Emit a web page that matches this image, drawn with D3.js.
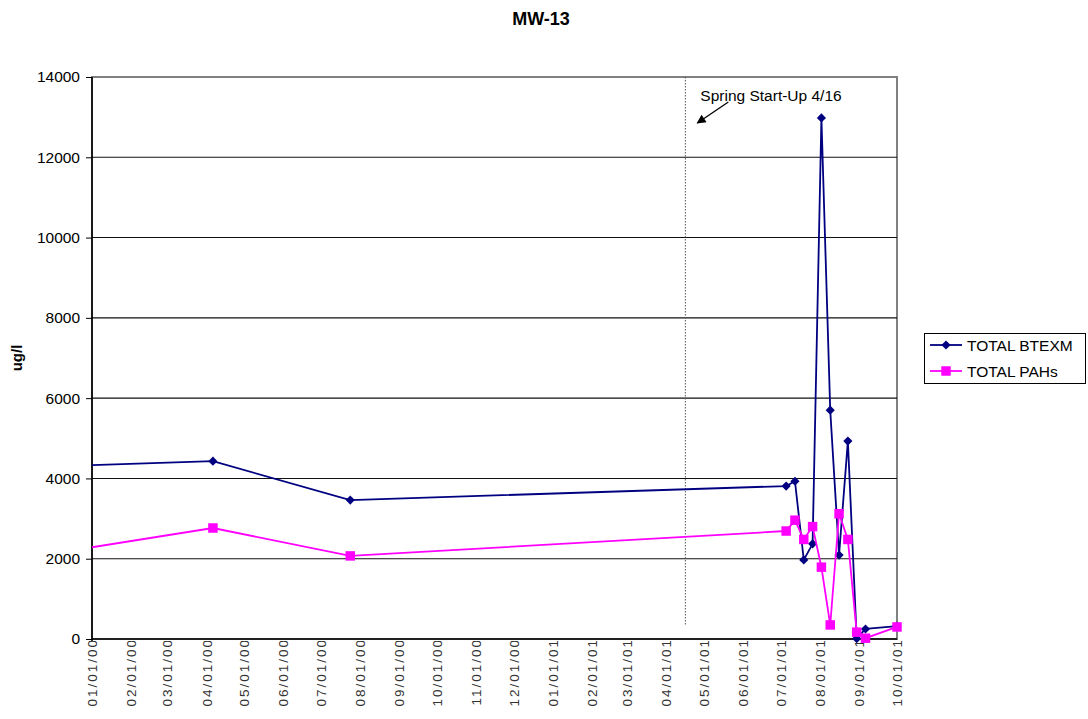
<!DOCTYPE html>
<html>
<head>
<meta charset="utf-8">
<script src="https://cdn.jsdelivr.net/npm/d3@7/dist/d3.min.js"></script>
<style>
  html, body { margin: 0; padding: 0; background: #fff; }
  svg { display: block; }
  text { font-family: "Liberation Sans", Arial, sans-serif; }
</style>
</head>
<body>
<svg id="chart" width="1088" height="719"></svg>
<script>
// Sampling dates (first sample precedes the axis window and is clipped)
const sampleDates = [
  "1999-10-14", "2000-04-06", "2000-07-24",
  "2001-07-05", "2001-07-12", "2001-07-19", "2001-07-26",
  "2001-08-02", "2001-08-09", "2001-08-16", "2001-08-23",
  "2001-08-30", "2001-09-06", "2001-10-01"
];
// Concentrations, ug/l
const btexm = [4250, 4430, 3460, 3810, 3930, 1970, 2370, 12980, 5700, 2090, 4930, 10, 250, 320];
const pahs  = [1890, 2765, 2070, 2690, 2960, 2480, 2800, 1790, 350, 3120, 2480, 170, 20, 300];

const seriesNames = ["TOTAL BTEXM", "TOTAL PAHs"];
const yTicks = [0, 2000, 4000, 6000, 8000, 10000, 12000, 14000];
const axisStart = "2000-01-01";
const axisEnd = "2001-10-01";
const startUpDate = "2001-04-16";
const startUpLabel = "Spring Start-Up 4/16";
const chartTitle = "MW-13";
const yTitle = "ug/l";

const parse = d3.timeParse("%Y-%m-%d");
const fmt = d3.timeFormat("%m/%d/%y");

const svg = d3.select("#chart");
const plotLeft = 92, plotRight = 897, plotTop = 77, plotBottom = 639;

const x = d3.scaleTime().domain([parse(axisStart), parse(axisEnd)]).range([plotLeft, plotRight]);
const y = d3.scaleLinear().domain([0, 14000]).range([plotBottom, plotTop]);

const defs = svg.append("defs");
defs.append("clipPath").attr("id", "plotClip")
  .append("rect").attr("x", plotLeft).attr("y", 0).attr("width", 1088 - plotLeft).attr("height", 719);
defs.append("clipPath").attr("id", "labelClip")
  .append("rect").attr("x", 0).attr("y", plotBottom + 2).attr("width", 1088).attr("height", 719);
defs.append("marker").attr("id", "arrowHead")
  .attr("viewBox", "0 0 10 10").attr("refX", 9).attr("refY", 5)
  .attr("markerWidth", 12).attr("markerHeight", 9).attr("markerUnits", "userSpaceOnUse")
  .attr("orient", "auto")
  .append("path").attr("d", "M0,0 L10,5 L0,10 Z").attr("fill", "#000");

// Title
svg.append("text").attr("x", 541).attr("y", 25).attr("text-anchor", "middle")
  .attr("font-size", 18).attr("font-weight", "bold").text(chartTitle);

// Plot frame
svg.append("rect").attr("x", plotLeft).attr("y", plotTop)
  .attr("width", plotRight - plotLeft).attr("height", plotBottom - plotTop)
  .attr("fill", "#fff").attr("stroke", "#808080").attr("stroke-width", 2);

// Horizontal gridlines
svg.append("g").selectAll("line").data(yTicks.filter(v => v > 0 && v < 14000)).join("line")
  .attr("x1", plotLeft).attr("x2", plotRight).attr("y1", d => y(d)).attr("y2", d => y(d))
  .attr("stroke", "#111").attr("stroke-width", 1.1);

// Start-up marker line and note
const xs = x(parse(startUpDate));
svg.append("line").attr("x1", xs).attr("x2", xs).attr("y1", plotTop).attr("y2", 625)
  .attr("stroke", "#555").attr("stroke-width", 1).attr("stroke-dasharray", "1.5,1.5");
svg.append("text").attr("x", xs + 15).attr("y", 101).attr("font-size", 15.5).attr("fill", "#000")
  .text(startUpLabel);
svg.append("line").attr("x1", xs + 43).attr("y1", 102).attr("x2", xs + 12).attr("y2", 123)
  .attr("stroke", "#000").attr("stroke-width", 1.3).attr("marker-end", "url(#arrowHead)");

// Y axis
const yAxis = svg.append("g").attr("transform", `translate(${plotLeft},0)`)
  .call(d3.axisLeft(y).tickValues(yTicks).tickSize(6).tickPadding(6).tickFormat(d3.format("d")));
yAxis.select(".domain").remove();
yAxis.selectAll(".tick line").attr("stroke", "#000");
yAxis.selectAll(".tick text").attr("font-size", 15.5).attr("fill", "#000")
  .attr("font-family", "'Liberation Sans', Arial, sans-serif");

// X axis labels (rotated, clipped at the axis)
const months = d3.timeMonth.range(parse(axisStart), d3.timeDay.offset(parse(axisEnd), 1));
svg.append("g").attr("clip-path", "url(#labelClip)").selectAll("text").data(months).join("text")
  .attr("transform", d => `translate(${x(d)},638) rotate(-90)`)
  .attr("text-anchor", "end").attr("dy", "0.36em")
  .attr("font-family", "'DejaVu Sans Mono', monospace").attr("font-size", 13.5)
  .attr("letter-spacing", "2px")
  .attr("fill", "#333").text(d => fmt(d));

// Axis lines
svg.append("line").attr("x1", plotLeft).attr("x2", plotLeft).attr("y1", plotTop).attr("y2", plotBottom + 2)
  .attr("stroke", "#000").attr("stroke-width", 1.6);
svg.append("line").attr("x1", plotLeft).attr("x2", plotRight).attr("y1", plotBottom).attr("y2", plotBottom)
  .attr("stroke", "#000").attr("stroke-width", 1.6);

// Y axis title
svg.append("text").attr("transform", "translate(22,358) rotate(-90)").attr("text-anchor", "middle")
  .attr("font-size", 15).attr("font-weight", "bold").text(yTitle);

// Marker shapes: diamonds are squares turned 45 degrees
const dates = sampleDates.map(parse);
const series = [
  { name: seriesNames[0], values: btexm, color: "#000080", width: 1.8, size: 42, turn: 45 },
  { name: seriesNames[1], values: pahs, color: "#FF00FF", width: 1.8, size: 90, turn: 0 }
];
const line = d3.line().x(d => x(d[0])).y(d => y(d[1]));
const plot = svg.append("g").attr("clip-path", "url(#plotClip)");
series.forEach(s => {
  const pts = dates.map((d, i) => [d, s.values[i]]);
  plot.append("path").datum(pts).attr("d", line).attr("fill", "none")
    .attr("stroke", s.color).attr("stroke-width", s.width);
  const sym = d3.symbol().type(d3.symbolSquare).size(s.size);
  plot.append("g").selectAll("path").data(pts.filter(p => p[0] >= x.domain()[0])).join("path")
    .attr("transform", p => `translate(${x(p[0])},${y(p[1])}) rotate(${s.turn})`)
    .attr("d", sym).attr("fill", s.color);
});

// Legend
const lg = svg.append("g");
lg.append("rect").attr("x", 924.5).attr("y", 333.5).attr("width", 161).attr("height", 50)
  .attr("fill", "#fff").attr("stroke", "#000").attr("stroke-width", 1);
series.forEach((s, i) => {
  const ly = 345 + i * 26;
  lg.append("line").attr("x1", 930).attr("x2", 962).attr("y1", ly).attr("y2", ly)
    .attr("stroke", s.color).attr("stroke-width", s.width);
  lg.append("path").attr("transform", `translate(946,${ly}) rotate(${s.turn})`)
    .attr("d", d3.symbol().type(d3.symbolSquare).size(s.size)).attr("fill", s.color);
  lg.append("text").attr("x", 967).attr("y", ly + 5.5).attr("font-size", 15.5).text(s.name);
});
</script>
</body>
</html>
